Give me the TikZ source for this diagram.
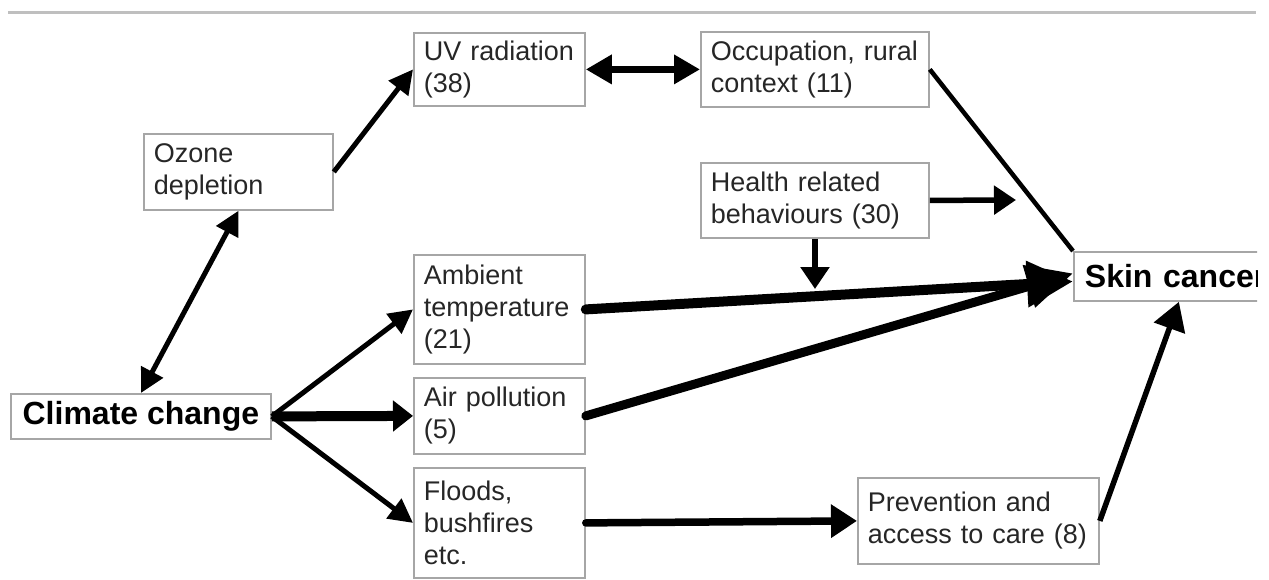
\documentclass[tikz,border=0pt]{standalone}
\usepackage{fontspec}
\setmainfont{Liberation Sans}
\usetikzlibrary{arrows.meta}

\begin{document}
\begin{tikzpicture}
[x=1pt,y=-1pt,%
  boxNode/.style={draw=black!35,line width=1.8pt,anchor=north west,inner xsep=10pt,inner ysep=0pt,align=left,text=black!85,font=\fontsize{27}{32}\selectfont},%
  boldNode/.style={boxNode,inner xsep=11pt,text=black,font=\fontsize{32}{36}\selectfont\bfseries},%
  linkMid/.style={line width=5pt,-{Triangle[length=24pt,width=24pt]}},%
  bothMid/.style={line width=5pt,{Triangle[length=24pt,width=24pt]}-{Triangle[length=24pt,width=24pt]}},%
  linkBig/.style={line width=10pt,line cap=round,-{Triangle[length=46pt,width=44pt]}},%
  linkPlain/.style={line width=4.5pt}]
\useasboundingbox (0,0) rectangle (1269,579);
%% top rule
\draw[black!25,line width=3pt] (8,12) -- (1256,12);
%% nodes
\node[boxNode,text width=151pt,minimum height=73pt] (uv) at (413,32) {UV radiation\\(38)};
\node[boxNode,text width=208pt,minimum height=75pt] (occup) at (700,31) {Occupation, rural\\context (11)};
\node[boxNode,text width=169pt,minimum height=76pt] (ozone) at (143,133) {Ozone\\depletion};
\node[boxNode,text width=208pt,minimum height=75pt] (health) at (700,162) {Health related\\behaviours (30)};
\node[boxNode,text width=151pt,minimum height=109pt] (ambient) at (413,254) {Ambient\\temperature\\(21)};
\node[boxNode,text width=151pt,minimum height=76pt] (air) at (413,377) {Air pollution\\(5)};
\node[boxNode,text width=151pt,minimum height=110pt] (floods) at (413,467) {Floods,\\bushfires\\etc.};
\node[boxNode,text width=221pt,minimum height=86pt] (prevent) at (857,477) {Prevention and\\access to care (8)};
\node[boldNode,minimum width=260pt,minimum height=45pt] (climate) at (10,393) {Climate change};
\begin{scope}
\clip (0,0) rectangle (1257,579);
\node[boldNode,text width=188pt,minimum height=49pt] (skin) at (1073,251) {Skin cancer};
\end{scope}
%% free ends on other links
\coordinate (hitA) at (815,289);
\coordinate (hitB) at (1016,200);
%% connectors
\draw[bothMid] (ozone.south) -- (climate.north);
\draw[linkMid] (ozone.east) -- (uv.west);
\draw[line width=6.5pt,{Triangle[length=26pt,width=28pt]}-{Triangle[length=26pt,width=28pt]}] (uv.east) -- (occup.west);
\draw[linkMid] (climate.east) -- (ambient.west);
\draw[line width=10pt,-{Triangle[length=20pt,width=30pt]}] (climate.east) -- (air.west);
\draw[linkMid] (climate.east) -- (floods.west);
\draw[linkPlain] (occup.east) -- (skin.north west);
\draw[linkBig] (ambient.east) -- ([yshift=-5pt]skin.west);
\draw[line width=9pt,line cap=round,-{Triangle[length=46pt,width=42pt]}] (air.east) -- ([yshift=3pt]skin.west);
\draw[line width=5.5pt,-{Triangle[length=22pt,width=28pt]}] (health.east) -- (hitB);
\draw[line width=5.5pt,-{Triangle[length=22pt,width=28pt]}] (health.south -| hitA) -- (hitA);
\draw[line width=7.5pt,line cap=round,-{Triangle[length=26pt,width=32pt]}] (floods.east) -- (prevent.west);
\draw[line width=5.5pt,-{Triangle[length=28pt,width=32pt]}] (prevent.east) -- (skin.south);
\end{tikzpicture}
\end{document}
